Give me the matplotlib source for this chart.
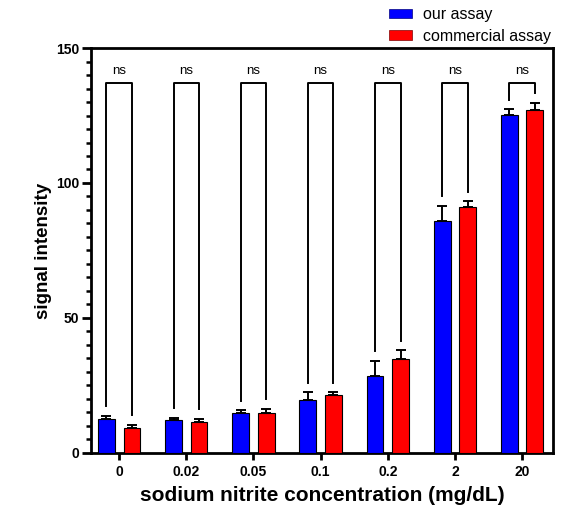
import numpy as np
import matplotlib
matplotlib.use("Agg")
import matplotlib.pyplot as plt
from matplotlib.patches import Patch
from matplotlib.ticker import MultipleLocator

plt.rcParams["font.family"] = ["Liberation Sans", "DejaVu Sans"]

# data
concentrations = ["0", "0.02", "0.05", "0.1", "0.2", "2", "20"]
our_assay = [12.5, 12.1, 14.8, 19.7, 28.4, 85.9, 125.2]
our_err = [1.3, 1.0, 1.1, 2.9, 5.8, 5.7, 2.2]
commercial = [9.4, 11.5, 14.9, 21.5, 34.8, 91.0, 127.0]
commercial_err = [1.1, 1.2, 1.5, 1.1, 3.3, 2.3, 2.7]
significance = ["ns", "ns", "ns", "ns", "ns", "ns", "ns"]

x = np.arange(len(concentrations))
offset = 0.19
width = 0.25

fig = plt.figure(figsize=(5.74, 5.08), dpi=100)
ax = fig.add_axes([0.1585, 0.1083, 0.8049, 0.7972])

ekw = dict(elinewidth=1.4, capsize=3.5, capthick=1.4, ecolor="black")
ax.bar(x - offset, our_assay, width, color="#0000FF", edgecolor="black",
       linewidth=0.8, yerr=[np.zeros(len(x)), our_err], error_kw=ekw,
       label="our assay", zorder=3)
ax.bar(x + offset, commercial, width, color="#FF0000", edgecolor="black",
       linewidth=0.8, yerr=[np.zeros(len(x)), commercial_err], error_kw=ekw,
       label="commercial assay", zorder=3)

# significance brackets
bracket_top = 137.2
gap = 3.5
for i, label in enumerate(significance):
    left_end = our_assay[i] + our_err[i] + gap
    right_end = commercial[i] + commercial_err[i] + gap
    ax.plot([x[i] - offset, x[i] - offset, x[i] + offset, x[i] + offset],
            [left_end, bracket_top, bracket_top, right_end],
            color="black", linewidth=1.4, zorder=2)
    ax.text(x[i], bracket_top + 3.2, label, ha="center", va="baseline",
            fontsize=9.5)

ax.set_xlim(-0.42, 6.46)
ax.set_ylim(0, 150)
ax.set_xticks(x)
ax.set_xticklabels(concentrations, fontsize=10, fontweight="bold")
ax.yaxis.set_major_locator(MultipleLocator(50))
ax.yaxis.set_minor_locator(MultipleLocator(5))
for lab in ax.get_yticklabels():
    lab.set_fontweight("bold")
    lab.set_fontsize(10)

for side in ["left", "right", "top", "bottom"]:
    ax.spines[side].set_linewidth(2.0)
ax.tick_params(axis="y", which="major", width=2.0, length=6.5, pad=2)
ax.tick_params(axis="x", which="major", width=2.0, length=5, pad=4)
ax.tick_params(axis="y", which="minor", width=1.8, length=3.6)
ax.tick_params(axis="x", which="minor", bottom=False)

ax.set_xlabel("sodium nitrite concentration (mg/dL)", fontsize=15,
              fontweight="bold", labelpad=5)
ax.set_ylabel("signal intensity", fontsize=13.5, fontweight="bold",
              labelpad=3)

handles = [Patch(facecolor="#0000FF", edgecolor="#000080", linewidth=0.5),
           Patch(facecolor="#FF0000", edgecolor="#800000", linewidth=0.5)]
fig.legend(handles, ["our assay", "commercial assay"], loc="upper left",
           bbox_to_anchor=(0.666, 1.0), frameon=False, fontsize=11.5,
           handlelength=1.4, handleheight=0.55, handletextpad=0.7,
           labelspacing=0.4, borderaxespad=0.05)

fig.savefig("out.png", dpi=100)
